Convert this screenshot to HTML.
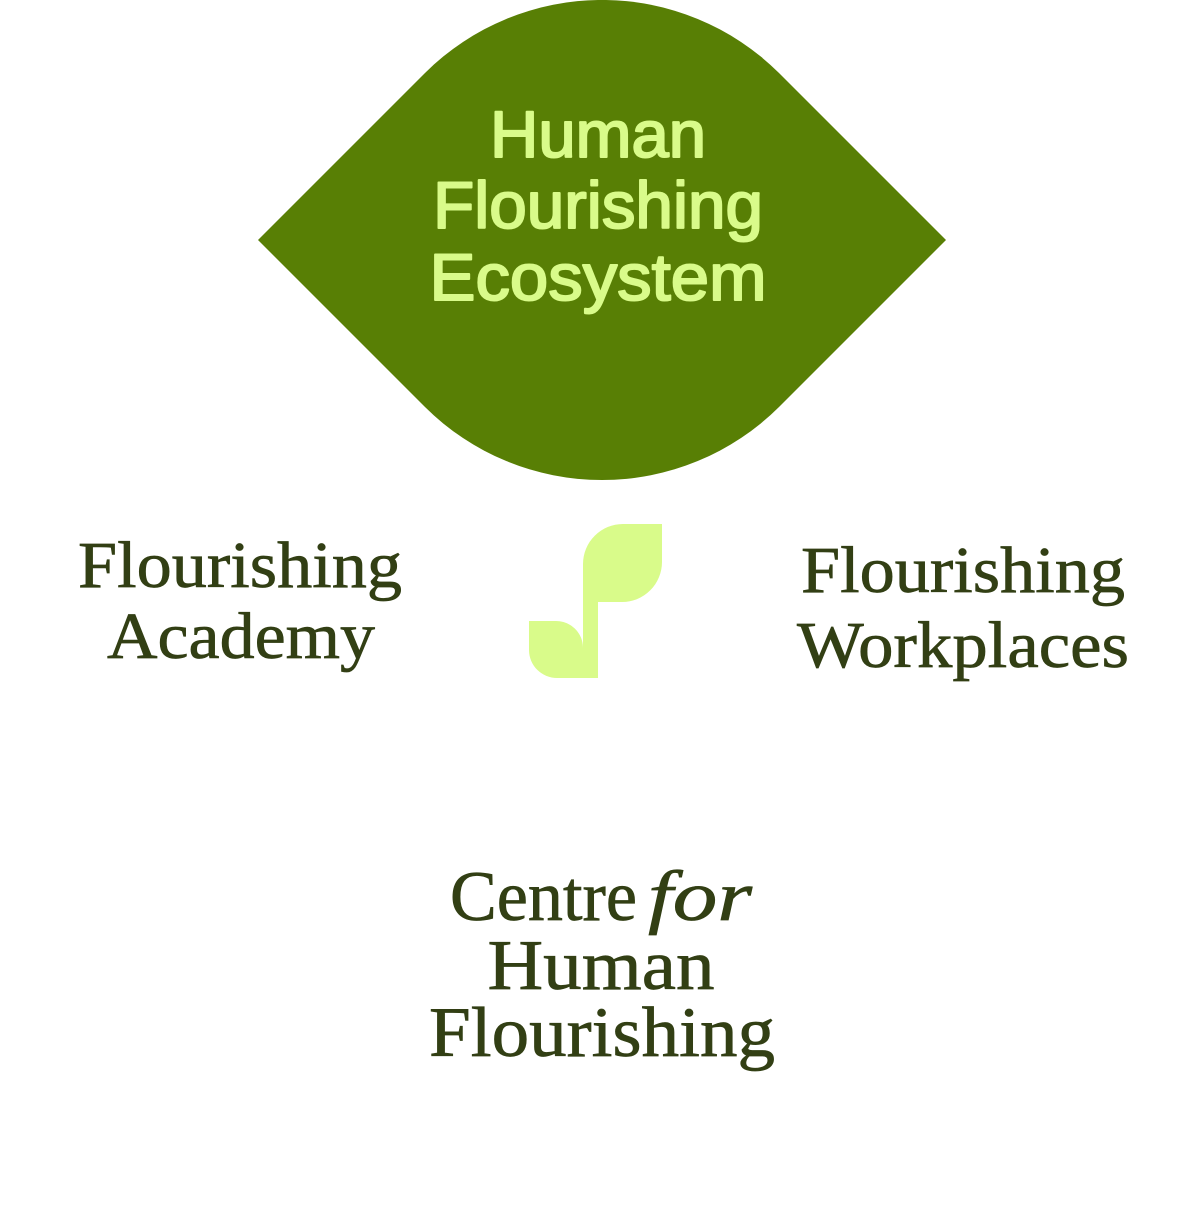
<!DOCTYPE html>
<html>
<head>
<meta charset="utf-8">
<style>
  html, body { margin: 0; padding: 0; background: #ffffff; }
  body { width: 1204px; height: 1210px; overflow: hidden; }
  svg { display: block; }
  .sans { font-family: "Liberation Sans", sans-serif; font-size: 66px; fill: #d9fb8a; stroke: #d9fb8a; stroke-width: 2px; stroke-linejoin: round; }
  .serif { font-family: "Liberation Serif", serif; fill: #323f14; stroke: #323f14; stroke-width: 0.7px; }
</style>
</head>
<body>
<svg width="1204" height="1210" viewBox="0 0 1204 1210" xmlns="http://www.w3.org/2000/svg">
  <!-- big leaf -->
  <path d="M258,240 L425,73 A251,251 0 0 1 779,73 L946,240 L779,407 A251,251 0 0 1 425,407 Z" fill="#587f05"/>
  <text class="sans" x="598" y="157" text-anchor="middle" textLength="216" lengthAdjust="spacingAndGlyphs">Human</text>
  <text class="sans" x="598" y="228" text-anchor="middle" textLength="330" lengthAdjust="spacingAndGlyphs">Flourishing</text>
  <text class="sans" x="598" y="300" text-anchor="middle" textLength="337" lengthAdjust="spacingAndGlyphs">Ecosystem</text>

  <!-- sprout icon -->
  <path d="M583,564 A40,40 0 0 1 623,524 L662,524 L662,562 A40,40 0 0 1 622,602 L598,602 L598,678 L557,678 A28,28 0 0 1 529,650 L529,621 L556,621 C570,621 583,632 583,648 Z" fill="#d9fb8a"/>

  <!-- left label -->
  <text class="serif" font-size="66" x="240" y="587" text-anchor="middle" textLength="324" lengthAdjust="spacingAndGlyphs">Flourishing</text>
  <text class="serif" font-size="66" x="241" y="658" text-anchor="middle" textLength="268" lengthAdjust="spacingAndGlyphs">Academy</text>

  <!-- right label -->
  <text class="serif" font-size="66" x="963" y="592" text-anchor="middle" textLength="324" lengthAdjust="spacingAndGlyphs">Flourishing</text>
  <text class="serif" font-size="66" x="963" y="667" text-anchor="middle" textLength="332" lengthAdjust="spacingAndGlyphs">Workplaces</text>

  <!-- bottom label -->
  <text class="serif" font-size="71" x="450" y="920" textLength="187" lengthAdjust="spacingAndGlyphs">Centre</text>
  <text class="serif" font-size="71" font-style="italic" x="648" y="920" textLength="104" lengthAdjust="spacingAndGlyphs">for</text>
  <text class="serif" font-size="71" x="601" y="989" text-anchor="middle" textLength="227" lengthAdjust="spacingAndGlyphs">Human</text>
  <text class="serif" font-size="71" x="602" y="1056" text-anchor="middle" textLength="346" lengthAdjust="spacingAndGlyphs">Flourishing</text>
</svg>
</body>
</html>
